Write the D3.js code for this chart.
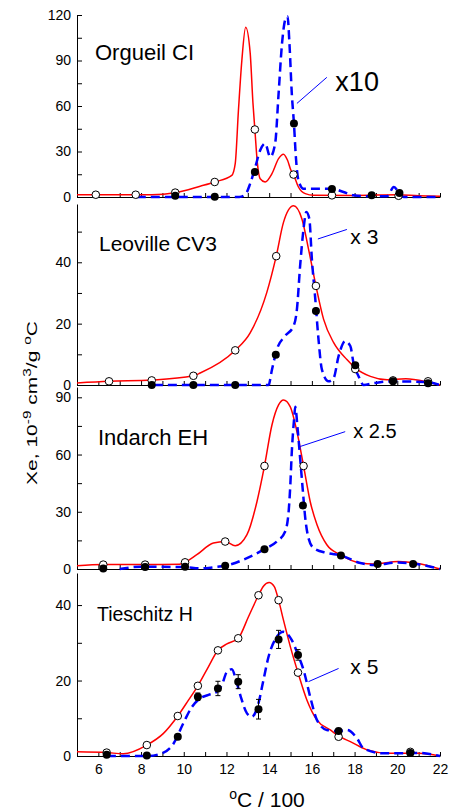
<!DOCTYPE html>
<html lang="en">
<head>
  <meta charset="UTF-8" />
  <title>Xe release profiles</title>
  <script src="https://cdn.jsdelivr.net/npm/d3@7"></script>
  <style>
    body { margin: 0; background: #fff; }
    text { font-family: "Liberation Sans", Arial, sans-serif; }
  </style>
</head>
<body>
<script>

const WIDTH = 450;
const HEIGHT = 812;

// x axis (temperature / 100 C)
const xTicks = [6, 8, 10, 12, 14, 16, 18, 20, 22];

// Orgueil CI
const orgueilRed = [[5,1.5],[7,1.5],[8.5,1.5],[9.6,2.8],[10.77,7.1],[11.45,9.9],[12.25,14.3],[12.41,22],[12.56,57],[12.72,90],[12.9,112],[13.11,95],[13.24,62],[13.33,44.5],[13.45,22],[13.58,12],[13.81,9.9],[14.13,15.4],[14.44,25.3],[14.67,28.2],[14.86,24.2],[15.02,17.6],[15.14,14.8],[15.37,6.6],[15.69,2.2],[16.08,1.1],[18,1],[20,1.5],[21,0.8],[22,0.5]];
const orgueilBlue = [[7.8,0],[12.6,0],[12.9,2],[13.11,8.8],[13.35,19.8],[13.58,30.8],[13.81,35.3],[14.05,26.4],[14.28,35.3],[14.44,68],[14.6,101],[14.75,116.7],[14.86,119],[14.95,101],[15.06,68],[15.16,48.5],[15.25,26.4],[15.37,11],[15.61,5.5],[16.08,5.5],[16.94,5.5],[17.48,3.3],[17.95,1.1],[18.5,0.5],[19.52,0.5],[19.84,6.6],[20.07,3],[20.3,0],[22,0]];
const orgueilOpen = [[5.88,1.5],[7.75,1.5],[9.6,2.9],[11.45,9.9],[13.33,44.5],[15.14,14.8],[16.94,1.1],[20.06,0.8]];
const orgueilFilled = [[9.6,0.8],[11.45,0.2],[13.33,16.5],[15.16,48.5],[16.94,5.3],[18.8,1.1],[20.1,2.6]];

// Leoville CV3
const leovilleRed = [[5,0.65],[6.5,1.2],[8.5,1.6],[10.45,3],[10.77,3.9],[12.41,11.3],[13.11,17],[13.89,30.2],[14.33,42],[14.67,53],[15.14,58.4],[15.53,54.2],[15.84,44.4],[16.19,32.3],[16.55,21.4],[17.02,13.8],[17.64,8.3],[18.03,5.6],[18.74,2.8],[19.52,1.7],[20.4,2],[21.4,1],[22,0]];
const leovilleBlue = [[8.6,0],[13.97,0],[14.13,5],[14.36,11.6],[14.75,16],[15.14,19.2],[15.3,24.7],[15.45,38.9],[15.61,50.9],[15.74,56.4],[15.88,54.2],[16,41],[16.16,28],[16.31,14.9],[16.47,5],[16.78,1.2],[17.02,2.3],[17.25,9.4],[17.56,14.3],[17.8,12.7],[17.95,7.2],[18.19,2.8],[18.42,0],[18.9,0.6],[19.7,1.2],[21.3,1],[22,0]];
const leovilleOpen = [[6.5,1.2],[8.5,1.5],[10.45,3],[12.41,11.3],[14.33,42],[16.19,32.3],[18.03,5.2],[19.8,1.5],[21.44,1.2]];
const leovilleFilled = [[8.5,0],[10.45,0],[12.41,0],[14.31,9.9],[16.19,24.1],[18.03,6.4],[19.8,1.2],[21.44,0.6]];

// Indarch EH
const indarchRed = [[5,1.7],[6.23,2.3],[8.19,2.3],[9.8,2.5],[10.06,3.5],[10.61,7.5],[11.39,13.6],[11.94,14.4],[12.41,12.2],[12.96,18],[13.43,35.4],[13.78,54],[14.13,75.5],[14.44,86],[14.67,88.6],[14.99,85],[15.3,72],[15.61,54],[15.92,35.4],[16.24,23.2],[16.7,12.7],[17.33,7.5],[18.27,3.1],[18.9,2.6],[20.05,3.9],[20.9,3],[22,0]];
const indarchBlue = [[7,0],[8,1.2],[10,1],[10.8,0.3],[11.39,0.9],[11.94,1.7],[12.96,5.7],[13.78,10.4],[14.36,14.4],[14.75,19.7],[14.91,30],[14.99,44],[15.06,61.5],[15.17,79],[15.22,85],[15.33,73.8],[15.45,58],[15.58,40.6],[15.69,26.7],[15.84,16.2],[16.08,11],[16.7,8.4],[17.36,7.1],[18.27,3.1],[18.9,2.1],[20.05,3.4],[20.9,2.6],[22,0]];
const indarchOpen = [[6.23,2.3],[8.19,2.3],[10.06,3.5],[11.94,14.4],[13.78,54],[15.61,54]];
const indarchFilled = [[6.23,0.2],[8.19,1],[10.06,1.2],[11.94,1.7],[13.78,10.4],[15.58,33.3],[17.36,7.1],[19.08,2.6],[20.74,2.6]];

// Tieschitz H
const tieschitzRed = [[5,1.1],[6.39,0.9],[7.17,0.6],[8.27,2.9],[9.05,6],[9.72,10.6],[10.22,14.8],[10.66,18.6],[11.16,23.7],[11.6,28],[12.02,29.7],[12.55,31.2],[13.03,36.9],[13.5,42.6],[13.73,45],[14,46],[14.24,44.9],[14.44,41.3],[14.67,36],[14.99,29],[15.35,22.1],[15.77,14.8],[16.24,9.5],[16.86,6.9],[17.25,5.3],[17.8,3.8],[18.6,1.6],[19.6,0.7],[21,0.7],[22,0]];
const tieschitzBlue = [[6.4,0],[8.3,0],[9.05,0.9],[9.51,3.2],[9.98,8.7],[10.38,13],[10.77,15.3],[11.16,16.2],[11.55,17],[11.78,18.8],[12.02,22.3],[12.25,23],[12.45,20.1],[12.67,15.7],[12.96,11.3],[13.19,10.4],[13.5,14],[13.73,20.1],[13.97,26.3],[14.36,31.6],[14.67,32.9],[15.06,30.7],[15.35,26.8],[15.61,22.8],[15.92,15.7],[16.24,9.5],[16.7,6.9],[17.25,6.6],[17.64,6.9],[18.11,4.7],[18.42,2],[19.36,0.7],[21,0.8],[22,0]];
const tieschitzOpen = [[6.39,0.9],[8.27,2.9],[9.72,10.6],[10.66,18.6],[11.6,28],[12.55,31.2],[13.5,42.6],[14.44,41.3],[15.35,22.1],[17.25,5.1],[20.61,1.1]];
const tieschitzFilled = [[6.39,0.3],[8.27,0.1],[9.72,5.1],[10.66,15.7],[11.6,17.9],[12.55,19.7],[13.5,12.4],[14.44,30.9],[15.35,26.8],[17.25,6.6],[20.61,0.8]];
const tieschitzErr = [0,0,0,1.0,1.9,1.85,2.6,2.4,1.4,0.5,0];

// panel layout: pixel top/bottom, y max, ticks, label, factor note
const panels = [
  {name: "Orgueil CI", red: orgueilRed, blue: orgueilBlue, open: orgueilOpen, filled: orgueilFilled, err: null,
   top: 15, bottom: 197, ymax: 120, major: [0,30,60,90,120], minor: [15,45,75,105],
   label: {x: 95, y: 60, size: 22}, note: {text: "x10", x: 17.1, y: 70, size: 27}, arrow: [[16.7,78.9],[15.3,61.7]]},
  {name: "Leoville CV3", red: leovilleRed, blue: leovilleBlue, open: leovilleOpen, filled: leovilleFilled, err: null,
   top: 204, bottom: 385, ymax: 59, major: [0,20,40], minor: [10,30,50],
   label: {x: 99, y: 251, size: 21}, note: {text: "x 3", x: 17.8, y: 46, size: 21}, arrow: [[17.64,50.7],[16.28,47.6]]},
  {name: "Indarch EH", red: indarchRed, blue: indarchBlue, open: indarchOpen, filled: indarchFilled, err: null,
   top: 387, bottom: 569, ymax: 95.4, major: [0,30,60,90], minor: [15,45,75],
   label: {x: 98, y: 445, size: 22}, note: {text: "x 2.5", x: 17.94, y: 68.7, size: 20}, arrow: [[17.56,72],[15.45,64.2]]},
  {name: "Tieschitz H", red: tieschitzRed, blue: tieschitzBlue, open: tieschitzOpen, filled: tieschitzFilled, err: tieschitzErr,
   top: 573, bottom: 756, ymax: 48.5, major: [0,20,40], minor: [10,30],
   label: {x: 97, y: 621, size: 19.5}, note: {text: "x 5", x: 17.8, y: 21.7, size: 21}, arrow: [[17.25,23.2],[15.84,19.7]]}
];

const svg = d3.select("body")
  .append("svg")
    .attr("width", WIDTH)
    .attr("height", HEIGHT);

const x = d3.scaleLinear().domain([5, 22]).range([77, 440]);

panels.forEach((p, pi) => {
  const y = d3.scaleLinear().domain([0, p.ymax]).range([p.bottom, p.top]);
  const g = svg.append("g");
  const last = pi === panels.length - 1;

  // bottom axis, ticks inside
  g.append("g")
    .attr("transform", `translate(0,${p.bottom})`)
    .call(d3.axisBottom(x)
      .tickValues(d3.range(5, 23))
      .tickSizeInner(-4)
      .tickSizeOuter(0)
      .tickPadding(8)
      .tickFormat(d => (last && d % 2 === 0) ? d : ""))
    .call(a => a.selectAll("text").attr("font-size", 14).attr("font-family", "Liberation Sans, Arial").attr("fill", "#000"));

  // left axis
  g.append("g")
    .attr("transform", `translate(${x(5)},0)`)
    .call(d3.axisLeft(y)
      .tickValues(p.major.concat(p.minor))
      .tickSizeInner(-5)
      .tickSizeOuter(0)
      .tickPadding(6)
      .tickFormat(d => p.major.includes(d) ? d : ""))
    .call(a => a.selectAll("text").attr("font-size", 14).attr("font-family", "Liberation Sans, Arial").attr("fill", "#000"));

  const line = d3.line()
    .x(d => x(d[0]))
    .y(d => y(d[1]))
    .curve(d3.curveMonotoneX);

  g.append("path")
    .datum(p.red)
    .attr("d", line)
    .attr("fill", "none")
    .attr("stroke", "#ff0000")
    .attr("stroke-width", 1.5);

  g.append("path")
    .datum(p.blue)
    .attr("d", line)
    .attr("fill", "none")
    .attr("stroke", "#0000ff")
    .attr("stroke-width", 2.5)
    .attr("stroke-dasharray", "9,5");

  g.selectAll(".open")
    .data(p.open)
    .join("circle")
      .attr("class", "open")
      .attr("cx", d => x(d[0]))
      .attr("cy", d => y(d[1]))
      .attr("r", 3.8)
      .attr("fill", "#fff")
      .attr("stroke", "#000")
      .attr("stroke-width", 1);

  // error bars (Tieschitz only)
  if (p.err) {
    const eb = g.selectAll(".err")
      .data(p.filled.map((d, i) => [d[0], d[1], p.err[i]]).filter(d => d[2] > 0.8))
      .join("g")
        .attr("class", "err")
        .attr("stroke", "#000")
        .attr("stroke-width", 1);
    eb.append("line")
      .attr("x1", d => x(d[0])).attr("x2", d => x(d[0]))
      .attr("y1", d => y(d[1] - d[2])).attr("y2", d => y(d[1] + d[2]));
    eb.append("line")
      .attr("x1", d => x(d[0]) - 2.5).attr("x2", d => x(d[0]) + 2.5)
      .attr("y1", d => y(d[1] - d[2])).attr("y2", d => y(d[1] - d[2]));
    eb.append("line")
      .attr("x1", d => x(d[0]) - 2.5).attr("x2", d => x(d[0]) + 2.5)
      .attr("y1", d => y(d[1] + d[2])).attr("y2", d => y(d[1] + d[2]));
  }

  g.selectAll(".filled")
    .data(p.filled)
    .join("circle")
      .attr("class", "filled")
      .attr("cx", d => x(d[0]))
      .attr("cy", d => y(d[1]))
      .attr("r", 4)
      .attr("fill", "#000");

  // sample name
  g.append("text")
    .attr("x", p.label.x)
    .attr("y", p.label.y)
    .attr("font-size", p.label.size)
    .text(p.name);

  // scale factor note with pointer
  g.append("line")
    .attr("x1", x(p.arrow[0][0])).attr("y1", y(p.arrow[0][1]))
    .attr("x2", x(p.arrow[1][0])).attr("y2", y(p.arrow[1][1]))
    .attr("stroke", "#0000ff")
    .attr("stroke-width", 1);
  g.append("text")
    .attr("x", x(p.note.x))
    .attr("y", y(p.note.y))
    .attr("font-size", p.note.size)
    .text(p.note.text);
});

// y axis title
const yt = svg.append("text")
  .attr("transform", "translate(37,403) rotate(-90) scale(1.4,1)")
  .attr("text-anchor", "middle")
  .attr("font-size", 15);
yt.append("tspan").text("Xe, 10");
yt.append("tspan").attr("dy", -6).attr("font-size", 11).text("-9");
yt.append("tspan").attr("dy", 6).text(" cm");
yt.append("tspan").attr("dy", -6).attr("font-size", 11).text("3");
yt.append("tspan").attr("dy", 6).text("/g ");
yt.append("tspan").attr("dy", -6).attr("font-size", 11).text("o");
yt.append("tspan").attr("dy", 6).text("C");

// x axis title
const xt = svg.append("text")
  .attr("x", 267)
  .attr("y", 807)
  .attr("text-anchor", "middle")
  .attr("font-size", 21);
xt.append("tspan").attr("dy", -8).attr("font-size", 14).text("o");
xt.append("tspan").attr("dy", 8).text("C / 100");

</script>
</body>
</html>
